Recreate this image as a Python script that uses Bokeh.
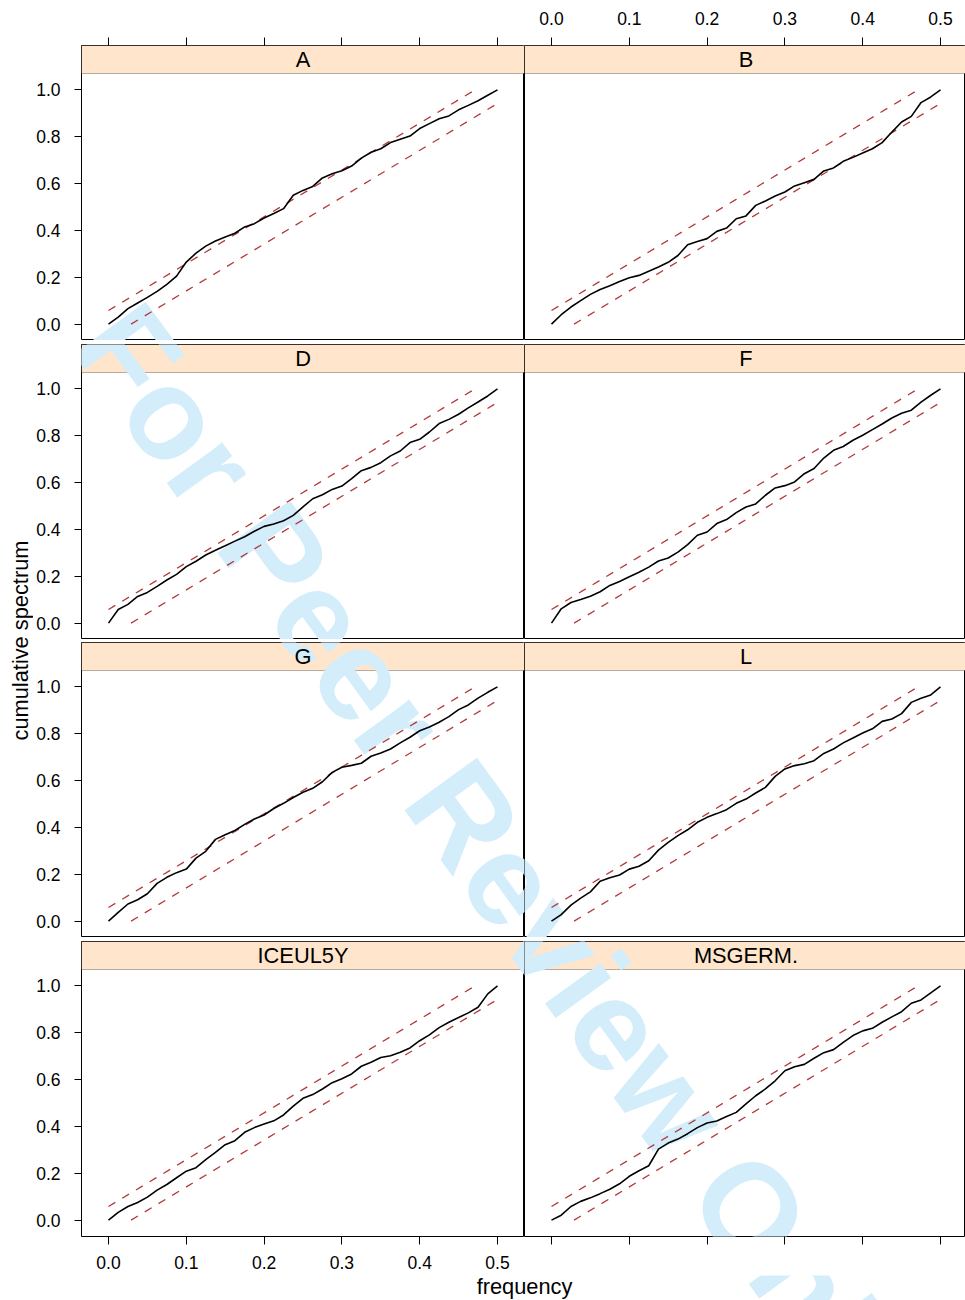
import math
from bokeh.plotting import figure
from bokeh.models import (Range1d, LinearAxis, FixedTicker, NumeralTickFormatter,
                          CustomJSTickFormatter, BoxAnnotation, Label, ColumnDataSource)
from bokeh.layouts import row, column
from bokeh.embed import file_html
from bokeh.resources import INLINE

# ---------------- data ----------------
panel_names = ["A", "B", "D", "F", "G", "L", "ICEUL5Y", "MSGERM."]

freq = [0.0, 0.0125, 0.025, 0.0375, 0.05, 0.0625, 0.075, 0.0875, 0.1, 0.1125,
        0.125, 0.1375, 0.15, 0.1625, 0.175, 0.1875, 0.2, 0.2125, 0.225, 0.2375,
        0.25, 0.2625, 0.275, 0.2875, 0.3, 0.3125, 0.325, 0.3375, 0.35, 0.3625,
        0.375, 0.3875, 0.4, 0.4125, 0.425, 0.4375, 0.45, 0.4625, 0.475, 0.4875, 0.5]

cum_A = [0.0, 0.03, 0.066, 0.09, 0.114, 0.14, 0.17, 0.205, 0.265, 0.303, 0.333, 0.355,
         0.372, 0.388, 0.415, 0.429, 0.453, 0.472, 0.493, 0.55, 0.571, 0.588, 0.624,
         0.642, 0.655, 0.675, 0.709, 0.734, 0.749, 0.775, 0.789, 0.803, 0.835, 0.856,
         0.877, 0.889, 0.915, 0.934, 0.954, 0.977, 1.0]
cum_B = [0.0, 0.04, 0.073, 0.10, 0.127, 0.148, 0.164, 0.182, 0.198, 0.208, 0.226, 0.244,
         0.264, 0.293, 0.339, 0.353, 0.365, 0.396, 0.41, 0.45, 0.462, 0.507, 0.526,
         0.547, 0.564, 0.59, 0.604, 0.618, 0.654, 0.667, 0.695, 0.712, 0.731, 0.749,
         0.775, 0.82, 0.863, 0.887, 0.946, 0.97, 1.0]
cum_D = [0.0, 0.058, 0.08, 0.114, 0.131, 0.157, 0.184, 0.208, 0.241, 0.264, 0.291, 0.311,
         0.33, 0.35, 0.369, 0.392, 0.413, 0.423, 0.437, 0.46, 0.496, 0.531, 0.548,
         0.571, 0.585, 0.617, 0.651, 0.665, 0.685, 0.714, 0.735, 0.771, 0.785, 0.816,
         0.852, 0.87, 0.892, 0.919, 0.944, 0.97, 1.0]
cum_F = [0.0, 0.061, 0.088, 0.101, 0.115, 0.134, 0.161, 0.178, 0.198, 0.217, 0.239, 0.265,
         0.278, 0.303, 0.335, 0.375, 0.389, 0.425, 0.442, 0.472, 0.496, 0.509, 0.546,
         0.577, 0.587, 0.603, 0.638, 0.66, 0.705, 0.738, 0.754, 0.781, 0.802, 0.826,
         0.85, 0.876, 0.896, 0.909, 0.944, 0.973, 1.0]
cum_G = [0.0, 0.037, 0.073, 0.091, 0.117, 0.161, 0.187, 0.207, 0.222, 0.269, 0.298, 0.349,
         0.369, 0.387, 0.413, 0.436, 0.453, 0.481, 0.503, 0.528, 0.55, 0.567, 0.595,
         0.635, 0.657, 0.665, 0.674, 0.704, 0.718, 0.735, 0.761, 0.785, 0.813, 0.829,
         0.849, 0.873, 0.903, 0.923, 0.952, 0.977, 1.0]
cum_L = [0.0, 0.028, 0.068, 0.098, 0.125, 0.17, 0.185, 0.197, 0.222, 0.234, 0.258, 0.303,
         0.336, 0.365, 0.39, 0.422, 0.443, 0.459, 0.476, 0.503, 0.521, 0.547, 0.571,
         0.618, 0.65, 0.664, 0.672, 0.685, 0.716, 0.735, 0.761, 0.782, 0.803, 0.821,
         0.853, 0.863, 0.886, 0.934, 0.952, 0.966, 1.0]
cum_ICEUL5Y = [0.0, 0.033, 0.058, 0.075, 0.098, 0.128, 0.152, 0.181, 0.209, 0.224, 0.258,
               0.289, 0.322, 0.339, 0.375, 0.395, 0.41, 0.424, 0.449, 0.487, 0.52, 0.536,
               0.56, 0.587, 0.604, 0.624, 0.657, 0.674, 0.694, 0.702, 0.717, 0.735, 0.766,
               0.791, 0.822, 0.845, 0.865, 0.885, 0.909, 0.966, 1.0]
cum_MSGERM = [0.0, 0.021, 0.058, 0.08, 0.095, 0.113, 0.132, 0.155, 0.187, 0.211, 0.232,
              0.303, 0.329, 0.346, 0.369, 0.395, 0.415, 0.423, 0.442, 0.46, 0.496, 0.531,
              0.56, 0.595, 0.638, 0.655, 0.665, 0.691, 0.715, 0.728, 0.759, 0.788, 0.808,
              0.819, 0.845, 0.868, 0.89, 0.926, 0.94, 0.97, 1.0]

band = 0.058  # half-width of the confidence band (cumulative spectrum units)

x_ticks = [0.0, 0.1, 0.2, 0.3, 0.4, 0.5]
y_ticks = [0.0, 0.2, 0.4, 0.6, 0.8, 1.0]

x_label = "frequency"
y_label = "cumulative spectrum"
watermark = "For Peer Review Only"

all_cum = [cum_A, cum_B, cum_D, cum_F, cum_G, cum_L, cum_ICEUL5Y, cum_MSGERM]

# ---------------- style / layout ----------------
FONT = "Liberation Sans"
FS_TICK = "17.5px"
FS_LAB = "21.8px"
STRIP_COL = "#ffe5cc"
REF_COL = "#b5393c"
WM_COL = "#d3edfb"

SX = 778.0                 # px per frequency unit
X0 = -0.0347
Y0, STRIP_BOT, Y1 = -0.07, 1.07, 1.1897
FH = 295
SY = FH / (Y1 - Y0)

YLAB_W = 33
LEFT_BORDER = 48
COL_FW = [443, 441]
ROW_TOP = [45, 4, 3, 4]
BOTTOM_BORDER = 39
XLAB_H = 25

col_frame_left = [YLAB_W + LEFT_BORDER, YLAB_W + LEFT_BORDER + COL_FW[0]]
row_frame_top = []
acc = 0
for r in range(4):
    row_frame_top.append(acc + ROW_TOP[r])
    acc += ROW_TOP[r] + FH
GRID_H = acc + BOTTOM_BORDER
TOTAL_W = YLAB_W + LEFT_BORDER + COL_FW[0] + COL_FW[1]

WM_PX, WM_PY = 497.0, 861.0
WM_SIZE = "130px"
WM_ANGLE = -54 * math.pi / 180
WM_PANELS = {0, 2, 4, 5, 6, 7}


def add_watermark(p, px_to_x, py_to_y):
    p.add_layout(Label(x=px_to_x(WM_PX), y=py_to_y(WM_PY), text=watermark,
                       angle=WM_ANGLE, text_align="center", text_baseline="alphabetic",
                       text_font=FONT, text_font_style="bold", text_font_size=WM_SIZE,
                       text_color=WM_COL, level="underlay"))


def blank_formatter():
    return CustomJSTickFormatter(code="return ''")


def make_panel(idx):
    r, c = divmod(idx, 2)
    fw = COL_FW[c]
    x1 = X0 + fw / SX
    p = figure(frame_width=fw, frame_height=FH,
               x_range=Range1d(X0, x1), y_range=Range1d(Y0, Y1),
               x_axis_location=None, y_axis_location=None,
               toolbar_location=None, output_backend="svg",
               min_border_left=LEFT_BORDER if c == 0 else 0, min_border_right=0,
               min_border_top=ROW_TOP[r], min_border_bottom=BOTTOM_BORDER if r == 3 else 0,
               outline_line_color="black", outline_line_width=1,
               background_fill_color="white", border_fill_color="white")
    for g in p.grid:
        g.visible = False

    p.add_layout(BoxAnnotation(bottom=STRIP_BOT, fill_color=STRIP_COL, fill_alpha=1.0,
                               line_color="black", line_width=1, level="underlay"))
    if idx in WM_PANELS:
        fl, ft = col_frame_left[c], row_frame_top[r]
        add_watermark(p, lambda px: X0 + (px - fl) / SX, lambda py: Y1 - (py - ft) / SY)
    p.add_layout(Label(x=0.25, y=(STRIP_BOT + Y1) / 2, text=panel_names[idx],
                       text_align="center", text_baseline="middle",
                       text_font=FONT, text_font_size=FS_LAB, text_color="black"))

    p.line([0, (1 - band) / 2], [band, 1], line_color=REF_COL, line_width=1.3,
           line_dash="8 8")
    p.line([band / 2, 0.5], [0, 1 - band], line_color=REF_COL, line_width=1.3,
           line_dash="8 8")
    src = ColumnDataSource(dict(f=freq, c=all_cum[idx]))
    p.line("f", "c", source=src, line_color="black", line_width=1.6)

    if c == 0:
        ya = LinearAxis(ticker=FixedTicker(ticks=y_ticks),
                        formatter=NumeralTickFormatter(format="0.0"),
                        axis_line_color=None, major_tick_in=0, major_tick_out=7,
                        major_tick_line_color="black", minor_tick_line_color=None,
                        major_label_standoff=14, major_label_text_font=FONT,
                        major_label_text_font_size=FS_TICK, major_label_text_color="black")
        p.add_layout(ya, "left")
    if r == 0 or r == 3:
        show = (r == 0 and c == 1) or (r == 3 and c == 0)
        xa = LinearAxis(ticker=FixedTicker(ticks=x_ticks),
                        formatter=NumeralTickFormatter(format="0.0") if show else blank_formatter(),
                        axis_line_color=None, major_tick_in=0, major_tick_out=8,
                        major_tick_line_color="black", minor_tick_line_color=None,
                        major_label_standoff=13 if r == 0 else 11,
                        major_label_text_font=FONT, major_label_text_font_size=FS_TICK,
                        major_label_text_color="black")
        p.add_layout(xa, "above" if r == 0 else "below")
    return p


panels = [make_panel(i) for i in range(8)]

ylab = figure(width=YLAB_W, height=GRID_H, x_range=Range1d(0, YLAB_W),
              y_range=Range1d(0, GRID_H), x_axis_location=None, y_axis_location=None,
              toolbar_location=None, output_backend="svg", min_border=0,
              outline_line_color=None, background_fill_color="white",
              border_fill_color="white")
for g in ylab.grid:
    g.visible = False
ylab.add_layout(Label(x=20, y=GRID_H - 640, text=y_label, angle=math.pi / 2,
                      text_align="center", text_baseline="middle",
                      text_font=FONT, text_font_size=FS_LAB, text_color="black"))

xlab = figure(width=TOTAL_W, height=XLAB_H, x_range=Range1d(0, TOTAL_W),
              y_range=Range1d(0, XLAB_H), x_axis_location=None, y_axis_location=None,
              toolbar_location=None, output_backend="svg", min_border=0,
              outline_line_color=None, background_fill_color="white",
              border_fill_color="white")
for g in xlab.grid:
    g.visible = False
add_watermark(xlab, lambda px: px, lambda py: XLAB_H - (py - GRID_H))
xlab.add_layout(Label(x=col_frame_left[1], y=XLAB_H - (1286 - GRID_H), text=x_label,
                      text_align="center", text_baseline="middle",
                      text_font=FONT, text_font_size=FS_LAB, text_color="black"))

grid = column(*[row(panels[2 * r], panels[2 * r + 1]) for r in range(4)])
layout = column(row(ylab, grid), xlab)

open("out.html", "w").write(file_html(layout, INLINE))
